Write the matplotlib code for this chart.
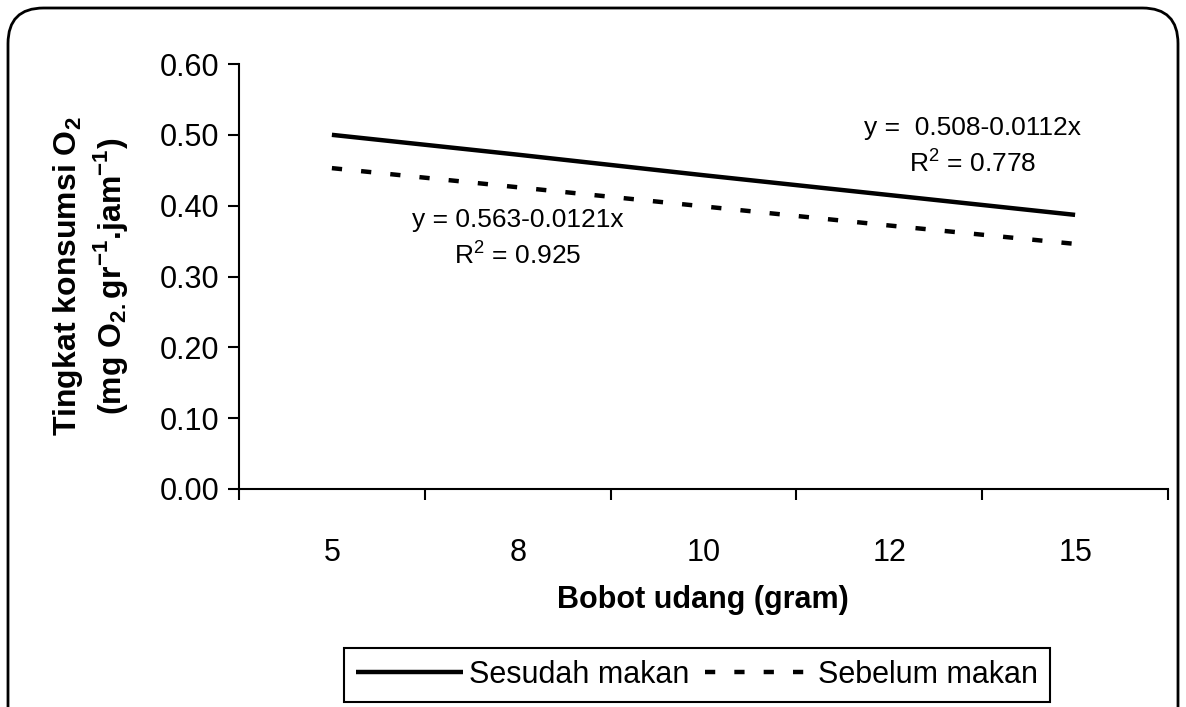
import matplotlib
matplotlib.use("Agg")
import matplotlib.pyplot as plt
from matplotlib.patches import FancyBboxPatch
from matplotlib.lines import Line2D

# data
categories = ["5", "8", "10", "12", "15"]
sesudah = [0.500, 0.472, 0.443, 0.415, 0.387]
sebelum = [0.453, 0.426, 0.399, 0.372, 0.346]
y_ticks = [0.0, 0.1, 0.2, 0.3, 0.4, 0.5, 0.6]

plt.rcParams["font.family"] = ["Liberation Sans", "DejaVu Sans"]
plt.rcParams["mathtext.fontset"] = "custom"
plt.rcParams["mathtext.rm"] = "Liberation Sans"
plt.rcParams["mathtext.bf"] = "Liberation Sans:bold"

W, H = 1186, 707
fig = plt.figure(figsize=(W / 100, H / 100), dpi=100)
ax = fig.add_axes([239 / W, 1 - 489 / H, (1168 - 239) / W, (489 - 64) / H])

x = list(range(len(categories)))
ax.plot(x, sesudah, color="black", lw=3.2, solid_capstyle="butt", label="Sesudah makan")
ax.plot(x, sebelum, color="black", lw=3.2, dashes=(2.3, 4.3), dash_capstyle="butt",
        label="Sebelum makan")

ax.set_xlim(-0.5, len(categories) - 0.5)
ax.set_ylim(0, 0.6)
ax.set_yticks(y_ticks)
ax.set_yticklabels([f"{v:.2f}" for v in y_ticks], fontsize=22)
ax.tick_params(axis="y", direction="out", length=8, width=1.5, pad=6)

# category boundaries as major ticks, labels on minor ticks
ax.set_xticks([i - 0.5 for i in range(len(categories) + 1)])
ax.set_xticklabels([])
ax.set_xticks(x, minor=True)
ax.set_xticklabels(categories, minor=True, fontsize=22)
ax.tick_params(axis="x", which="major", direction="out", length=8, width=1.5)
ax.tick_params(axis="x", which="minor", length=0, pad=35)

for s in ["top", "right"]:
    ax.spines[s].set_visible(False)
for s in ["left", "bottom"]:
    ax.spines[s].set_linewidth(1.5)

ax.text(1.0, 0.380, "y = 0.563-0.0121x", ha="center", va="center", fontsize=19)
ax.text(1.0, 0.331, r"R$^2$ = 0.925", ha="center", va="center", fontsize=19)
ax.text(3.45, 0.510, "y =  0.508-0.0112x", ha="center", va="center", fontsize=19)
ax.text(3.45, 0.461, r"R$^2$ = 0.778", ha="center", va="center", fontsize=19)

fig.text(703 / W, 1 - 600 / H, "Bobot udang (gram)", ha="center", va="center",
         fontsize=22, fontweight="bold")
fig.text(68 / W, 1 - 276 / H, r"Tingkat konsumsi O$_\mathbf{2}$", rotation=90,
         ha="center", va="center", fontsize=23, fontweight="bold")
fig.text(110 / W, 1 - 276 / H,
         r"(mg O$_{\mathbf{2.}}$gr$^{\mathbf{-1}}$.jam$^{\mathbf{-1}}$)", rotation=90,
         ha="center", va="center", fontsize=23, fontweight="bold")

handles = [Line2D([], [], color="black", lw=3.2, solid_capstyle="butt"),
           Line2D([], [], color="black", lw=3.2, dashes=(2.3, 4.3), dash_capstyle="butt")]
leg = fig.legend(handles, ["Sesudah makan", "Sebelum makan"], loc="center",
                 bbox_to_anchor=(697 / W, 1 - 675 / H), ncol=2, fontsize=22,
                 frameon=True, fancybox=False, edgecolor="black", framealpha=1,
                 handlelength=3.5, handletextpad=0.2, columnspacing=0.5,
                 borderpad=0.4, borderaxespad=0)
leg.get_frame().set_linewidth(1.5)

border = FancyBboxPatch((8 / W, -0.05), (1178 - 8) / W, 1 - 8 / H + 0.05,
                        boxstyle="round,pad=0,rounding_size=0.03",
                        transform=fig.transFigure, facecolor="none",
                        edgecolor="black", linewidth=2, mutation_aspect=W / H)
fig.patches.append(border)

fig.savefig("out.png", dpi=100)
